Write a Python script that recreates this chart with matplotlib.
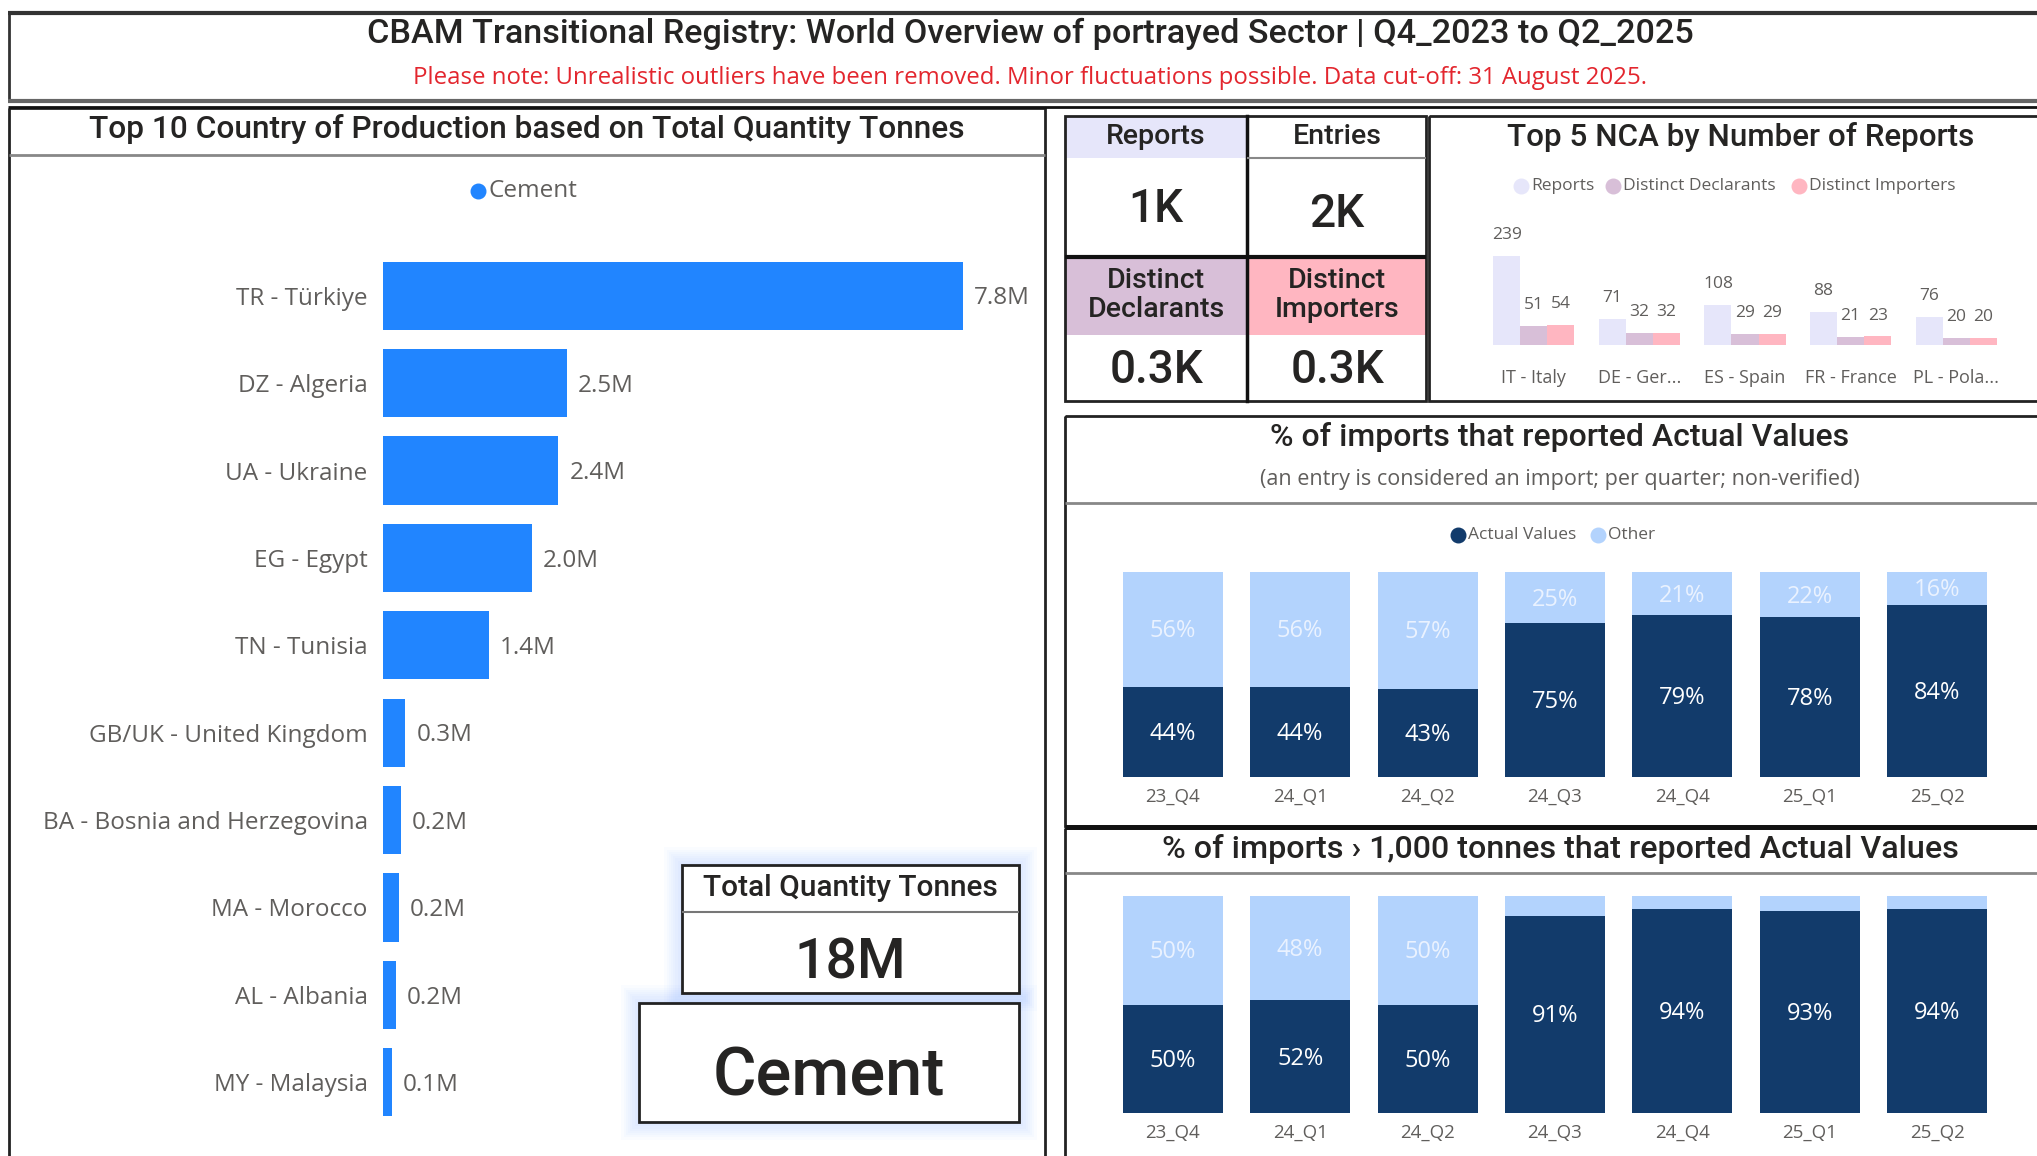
import matplotlib
matplotlib.use('Agg')
import matplotlib.pyplot as plt
from matplotlib.patches import Rectangle

plt.rcParams['font.family'] = ['Open Sans', 'DejaVu Sans']

W, H = 2037, 1156

# data
countries = ['TR - Türkiye', 'DZ - Algeria', 'UA - Ukraine', 'EG - Egypt', 'TN - Tunisia',
             'GB/UK - United Kingdom', 'BA - Bosnia and Herzegovina', 'MA - Morocco',
             'AL - Albania', 'MY - Malaysia']
quantity_m = [7.8, 2.47, 2.36, 2.0, 1.42, 0.3, 0.24, 0.21, 0.17, 0.12]
total_tonnes = '18M'
sector = 'Cement'

kpi_labels = ['Reports', 'Entries', 'Distinct\nDeclarants', 'Distinct\nImporters']
kpi_values = ['1K', '2K', '0.3K', '0.3K']

nca = ['IT - Italy', 'DE - Ger...', 'ES - Spain', 'FR - France', 'PL - Pola...']
nca_reports = [239, 71, 108, 88, 76]
nca_declarants = [51, 32, 29, 21, 20]
nca_importers = [54, 32, 29, 23, 20]

quarters = ['23_Q4', '24_Q1', '24_Q2', '24_Q3', '24_Q4', '25_Q1', '25_Q2']
actual_all = [44, 44, 43, 75, 79, 78, 84]
other_all = [56, 56, 57, 25, 21, 22, 16]
actual_big = [50, 52, 50, 91, 94, 93, 94]
other_big = [50, 48, 50, 9, 6, 7, 6]

# colours
BLUE = '#2185FF'
NAVY = '#123B6B'
LIGHT = '#B3D3FD'
LAV = '#E6E6FA'
THISTLE = '#D8BFD8'
PINK = '#FFB6C1'
TXT = '#252423'
GRAY = '#605E5C'
TITLE_FONT = ['Roboto', 'DejaVu Sans']

fig = plt.figure(figsize=(W / 100, H / 100), dpi=100)

# background layer in pixel coords (y down)
bg = fig.add_axes([0, 0, 1, 1])
bg.set_xlim(0, W)
bg.set_ylim(H, 0)
bg.axis('off')


def px_axes(x0, y0, x1, y1):
    ax = fig.add_axes([x0 / W, 1 - y1 / H, (x1 - x0) / W, (y1 - y0) / H])
    ax.set_facecolor('none')
    for s in ax.spines.values():
        s.set_visible(False)
    return ax


def box(x0, y0, x1, y1, lw=2, ec='#222222', fc='none', z=1):
    bg.add_patch(Rectangle((x0, y0), x1 - x0, y1 - y0, lw=lw, ec=ec, fc=fc, zorder=z))


def hline(x0, x1, y, lw=2, c='#222222'):
    bg.plot([x0, x1], [y, y], color=c, lw=lw, solid_capstyle='butt', zorder=3)


def legend_dot(x, y, color, label, size=12.5):
    bg.scatter([x], [y], s=110, color=color, zorder=4)
    bg.text(x + 10, y, label, fontsize=size, color=GRAY, va='center', ha='left')


# ---- header box
hline(8, W, 13, lw=3, c='#333333')
bg.plot([9, 9], [13, 101], color='#333333', lw=2)
hline(8, W, 101, lw=3, c='#666666')
hline(8, W, 107, lw=2, c='#111111')
bg.text(1030, 34, 'CBAM Transitional Registry: World Overview of portrayed Sector | Q4_2023 to Q2_2025',
        fontsize=24.6, color=TXT, ha='center', va='center', family=TITLE_FONT, weight='medium')
bg.text(1030, 78, 'Please note: Unrealistic outliers have been removed. Minor fluctuations possible. '
        'Data cut-off: 31 August 2025.', fontsize=17.3, color='#E3262E', ha='center', va='center')

# ---- left panel
box(9, 108, 1045, H + 5)
hline(9, 1045, 155, lw=2, c='#888888')
bg.text(527, 129, 'Top 10 Country of Production based on Total Quantity Tonnes',
        fontsize=22.8, color=TXT, ha='center', va='center', family=TITLE_FONT, weight='medium')
legend_dot(478, 191, BLUE, 'Cement', size=17.5)

ax1 = px_axes(383, 252, 963, 1126)
ypos = range(len(countries))
ax1.barh(ypos, quantity_m, height=0.78, color=BLUE)
ax1.set_xlim(0, max(quantity_m))
ax1.set_ylim(len(countries) - 0.5, -0.5)
ax1.set_xticks([])
ax1.set_yticks(list(ypos))
ax1.set_yticklabels(countries, fontsize=17.5, color=GRAY)
ax1.tick_params(axis='y', length=0, pad=11)
for i, v in enumerate(quantity_m):
    ax1.annotate(f'{v:.1f}M', (v, i), xytext=(8, -2), textcoords='offset points',
                 va='center', ha='left', fontsize=17.5, color=GRAY)

# glowing KPI boxes
for k in range(8, 0, -1):
    pad = k * 2.2
    for (x0, y0, x1, y1) in [(682, 865, 1019, 993), (639, 1003, 1019, 1122)]:
        bg.add_patch(Rectangle((x0 - pad, y0 - pad), x1 - x0 + 2 * pad, y1 - y0 + 2 * pad,
                               lw=0, fc='#7FAEFF', alpha=0.035, zorder=2))
box(682, 865, 1019, 993, lw=2, fc='white', z=3)
hline(682, 1019, 912, lw=1.5, c='#777777')
bg.text(850, 888, 'Total Quantity Tonnes', fontsize=21.5, color=TXT, ha='center', va='center',
        family=TITLE_FONT, weight='medium', zorder=5)
bg.text(850, 963, total_tonnes, fontsize=40, color=TXT, ha='center', va='center',
        family=TITLE_FONT, weight='medium', zorder=5)
box(639, 1003, 1019, 1122, lw=2, fc='white', z=3)
bg.text(829, 1077, sector, fontsize=48, color=TXT, ha='center', va='center',
        family=TITLE_FONT, weight='medium', zorder=5)

# ---- KPI cards
bg.add_patch(Rectangle((1065, 116), 182, 42, lw=0, fc=LAV))
bg.add_patch(Rectangle((1065, 258), 182, 77, lw=0, fc=THISTLE))
bg.add_patch(Rectangle((1247, 258), 179, 77, lw=0, fc=PINK))
box(1065, 116, 1426, 401, lw=2)
bg.plot([1247, 1247], [116, 401], color='#111111', lw=2.5)
hline(1065, 1426, 257, lw=3, c='#111111')
hline(1247, 1426, 158, lw=1.5, c='#888888')
kpi_pos = [(1156, 136, 209), (1337, 136, 214), (1156, 295, 370), (1337, 295, 370)]
for (cx, hy, vy), lab, val in zip(kpi_pos, kpi_labels, kpi_values):
    bg.text(cx, hy, lab, fontsize=20.5, color=TXT, ha='center', va='center',
            family=TITLE_FONT, weight='medium', linespacing=1.1)
    bg.text(cx, vy, val, fontsize=33, color=TXT, ha='center', va='center',
            family=TITLE_FONT, weight='medium')

# ---- top 5 NCA
box(1429, 116, W + 5, 401, lw=2)
bg.text(1741, 137, 'Top 5 NCA by Number of Reports', fontsize=22.6, color=TXT, ha='center',
        va='center', family=TITLE_FONT, weight='medium')
legend_dot(1521, 186, LAV, 'Reports')
legend_dot(1613, 186, THISTLE, 'Distinct Declarants')
legend_dot(1799, 186, PINK, 'Distinct Importers')

ax2 = px_axes(1481, 256, 2009, 345)
bw = 0.256
xs = list(range(len(nca)))
for off, vals, col in [(-bw, nca_reports, LAV), (0, nca_declarants, THISTLE), (bw, nca_importers, PINK)]:
    ax2.bar([x + off for x in xs], vals, width=bw, color=col)
    for x, v in zip(xs, vals):
        ax2.annotate(str(v), (x + off, v), xytext=(0, 15), textcoords='offset points',
                     ha='center', va='center', fontsize=12.5, color=GRAY)
ax2.set_xlim(-0.5, len(nca) - 0.5)
ax2.set_ylim(0, max(nca_reports))
ax2.set_yticks([])
ax2.set_xticks(xs)
ax2.set_xticklabels(nca, fontsize=13, color=GRAY)
ax2.tick_params(axis='x', length=0, pad=17)

# ---- % charts
box(1065, 416, W + 5, 826, lw=2)
hline(1065, W, 503, lw=2, c='#888888')
hline(1065, W, 827, lw=3.5, c='#111111')
bg.text(1560, 437, '% of imports that reported Actual Values', fontsize=23, color=TXT,
        ha='center', va='center', family=TITLE_FONT, weight='medium')
bg.text(1560, 480, '(an entry is considered an import; per quarter; non-verified)',
        fontsize=15.5, color=GRAY, ha='center', va='center')
legend_dot(1458, 535, NAVY, 'Actual Values')
legend_dot(1598, 535, LIGHT, 'Other')

box(1065, 828, W + 5, H + 5, lw=2)
hline(1065, W, 873, lw=2, c='#888888')
bg.text(1560, 849, '% of imports › 1,000 tonnes that reported Actual Values', fontsize=23.2,
        color=TXT, ha='center', va='center', family=TITLE_FONT, weight='medium')


def stacked(ax, actual, other):
    qx = list(range(len(quarters)))
    ax.bar(qx, actual, width=0.785, color=NAVY)
    ax.bar(qx, other, bottom=actual, width=0.785, color=LIGHT)
    for x, a, o in zip(qx, actual, other):
        ax.text(x, a / 2 - 1, f'{a}%', ha='center', va='center', fontsize=17, color='white')
        if o >= 10:
            ax.text(x, a + o / 2 - 1, f'{o}%', ha='center', va='center', fontsize=17,
                    color='#EAF2FF')
    ax.set_xlim(-0.5, len(quarters) - 0.5)
    ax.set_ylim(0, 100)
    ax.set_yticks([])
    ax.set_xticks(qx)
    ax.set_xticklabels(quarters, fontsize=13.5, color=GRAY)
    ax.tick_params(axis='x', length=0, pad=8)


ax3 = px_axes(1109, 572, 2001, 777)
stacked(ax3, actual_all, other_all)
ax4 = px_axes(1109, 896, 2001, 1113)
stacked(ax4, actual_big, other_big)

fig.savefig('out.png', dpi=100)
